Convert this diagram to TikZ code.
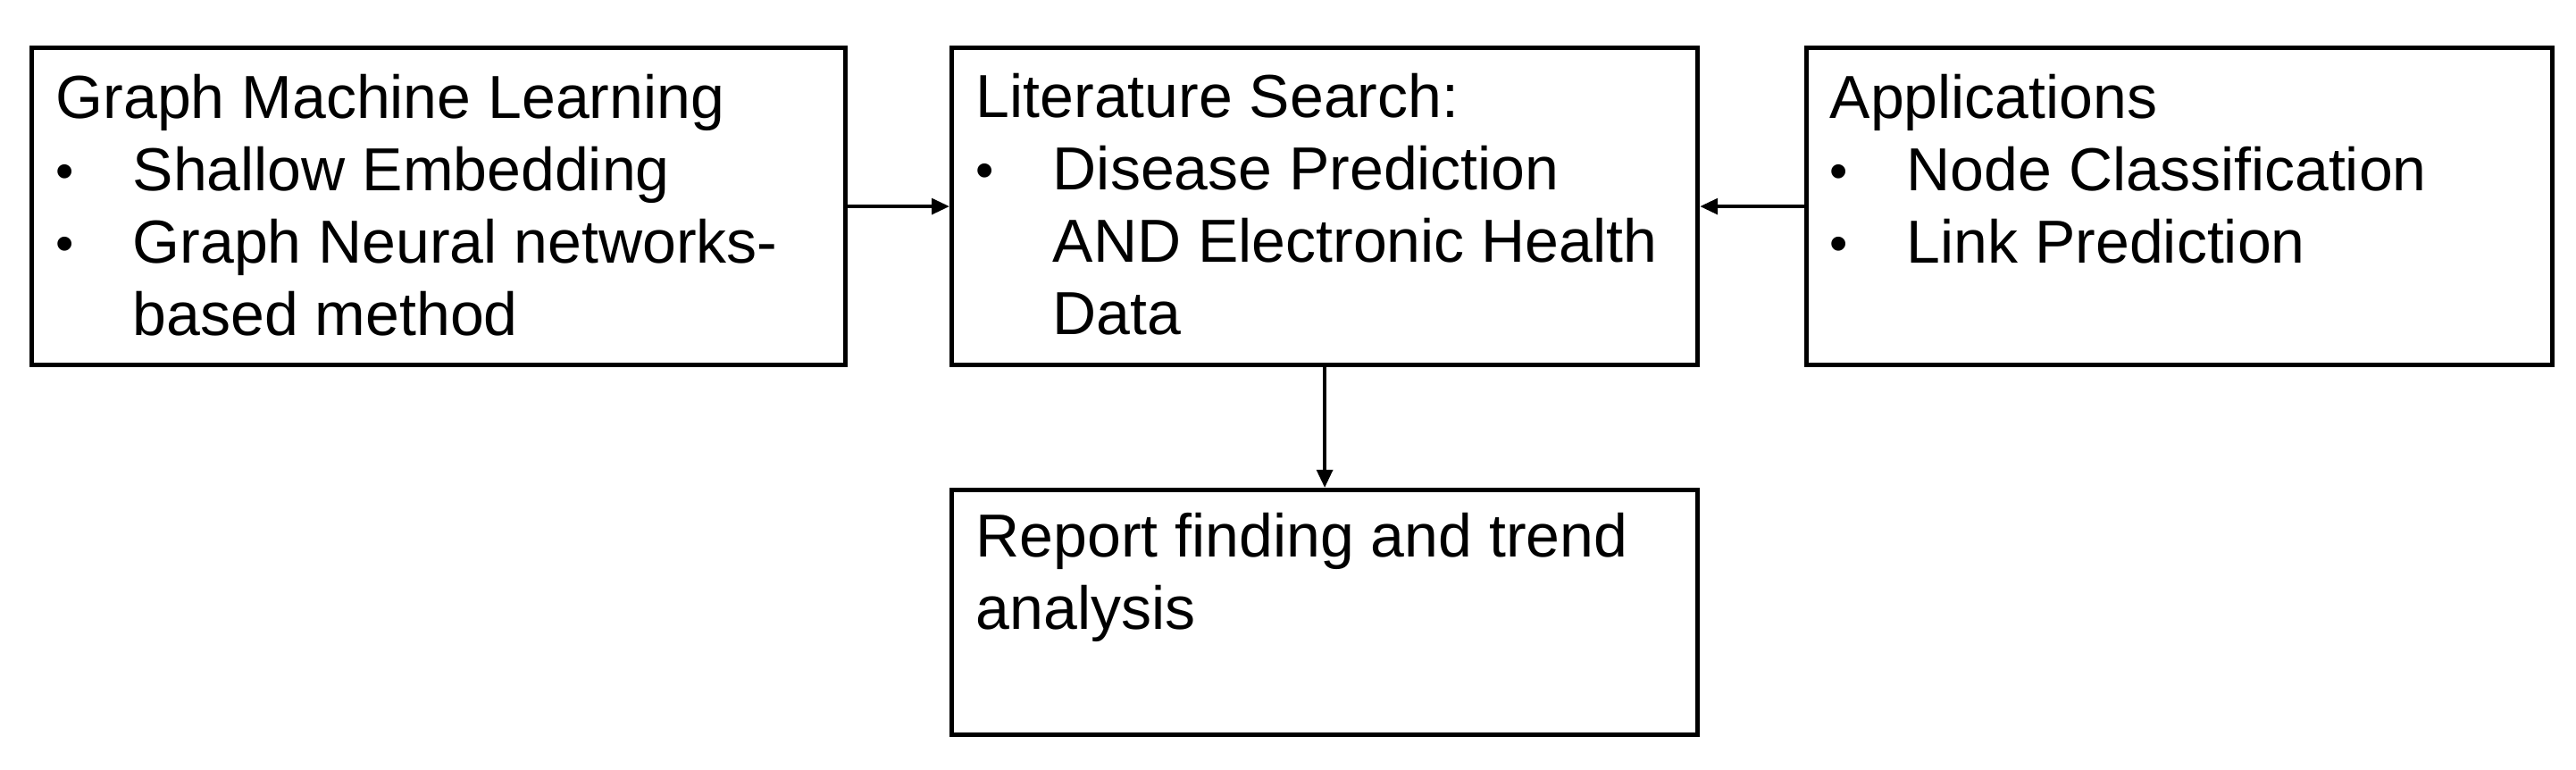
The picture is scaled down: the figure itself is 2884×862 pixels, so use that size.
\documentclass[tikz,border=0pt]{standalone}
\usepackage{fontspec}
\setmainfont{Liberation Sans}
\usetikzlibrary{arrows.meta,calc}
\newcommand{\bul}{\makebox[21.5pt][l]{\raisebox{0.7pt}{\fontsize{14.5pt}{14.5pt}\selectfont\textbullet}}}
\newcommand{\ind}{\hspace*{21.5pt}}
\begin{document}
\begin{tikzpicture}[x=0.25pt,y=-0.25pt,
  box/.style={draw, line width=1.3pt, anchor=north west, inner sep=0},
  txt/.style={anchor=base west, inner sep=0, font=\fontsize{17pt}{20.25pt}\selectfont},
  arr/.style={line width=1pt, -{Triangle[length=5pt,width=4.4pt]}}]
\useasboundingbox (0,0) rectangle (2884,862);
\node[box, minimum width=227.75pt, minimum height=88.75pt] (b1) at (33,51) {};
\node[box, minimum width=208.75pt, minimum height=88.75pt] (b2) at (1063,51) {};
\node[box, minimum width=208.75pt, minimum height=88.75pt] (b3) at (2020,51) {};
\node[box, minimum width=208.75pt, minimum height=68.5pt] (b4) at (1063,546) {};
\node[txt] (t1) at ($(b1.north west)+(29,82)$) {\parbox[t]{220pt}{\raggedright Graph Machine Learning\\ \bul Shallow Embedding\\ \bul Graph Neural networks-\\ \ind based method}};
\node[txt] (t2) at ($(b2.north west)+(29,81)$) {\parbox[t]{205pt}{\raggedright Literature Search:\\ \bul Disease Prediction\\ \ind AND Electronic Health\\ \ind Data}};
\node[txt] (t3) at ($(b3.north west)+(28,82)$) {\parbox[t]{205pt}{\raggedright Applications\\ \bul Node Classification\\ \bul Link Prediction}};
\node[txt] (t4) at ($(b4.north west)+(29,78)$) {\parbox[t]{205pt}{\raggedright Report finding and trend\\ analysis}};
\draw[arr] (b1.east) -- (b2.west);
\draw[arr] (b3.west) -- (b2.east);
\draw[arr] (b2.south) -- (b4.north);
\end{tikzpicture}
\end{document}
